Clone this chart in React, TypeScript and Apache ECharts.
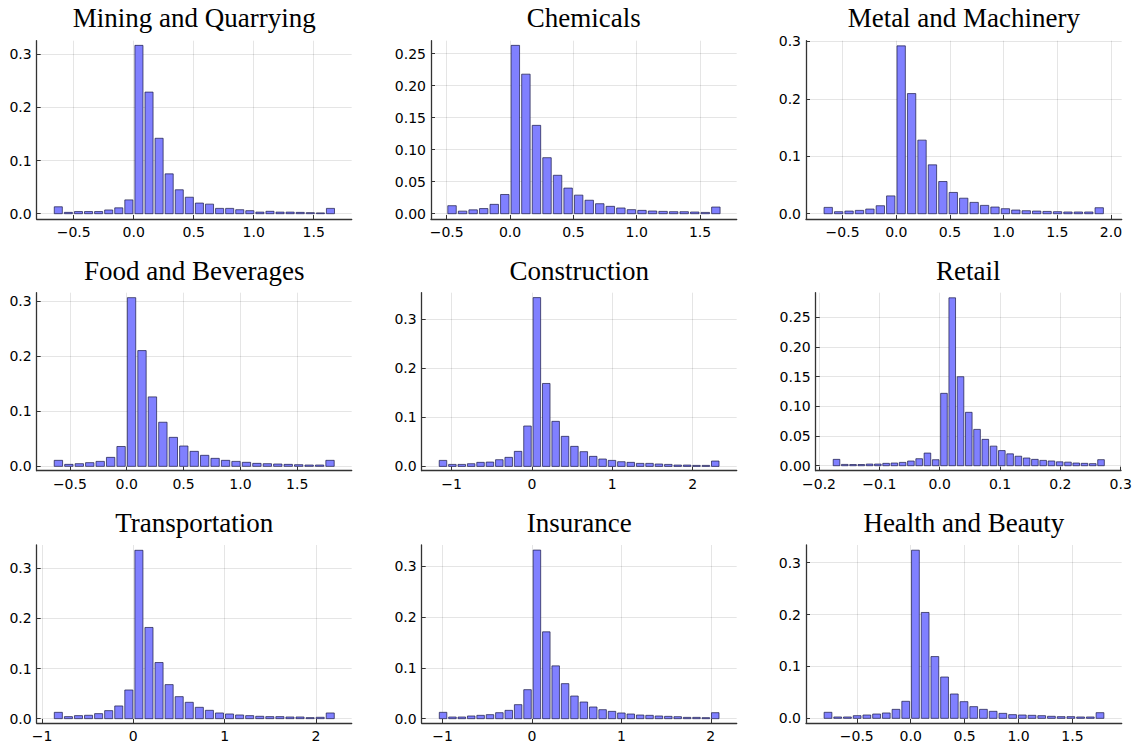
import React, { useEffect, useRef } from "react";
import * as echarts from "echarts";

// Sector names, one panel each (row by row)
const sectorNames = [
  "Mining and Quarrying",
  "Chemicals",
  "Metal and Machinery",
  "Food and Beverages",
  "Construction",
  "Retail",
  "Transportation",
  "Insurance",
  "Health and Beauty",
];

// Histogram bins: centre of the first bin and the common bin width
const firstBinCenter = [-0.628, -0.458, -0.634, -0.601, -1.108, -0.171, -0.821, -0.995, -0.767];
const binWidth = [0.084, 0.0833, 0.0971, 0.0919, 0.1169, 0.0137, 0.1103, 0.105, 0.0901];

// Relative frequencies per bin
const miningDensity = [0.013, 0.0025, 0.004, 0.004, 0.004, 0.007, 0.011, 0.026, 0.317, 0.229, 0.142, 0.075, 0.045, 0.031, 0.02, 0.018, 0.01, 0.01, 0.0075, 0.0057, 0.003, 0.0045, 0.003, 0.003, 0.0025, 0.002, 0.0015, 0.01];
const chemicalsDensity = [0.0125, 0.004, 0.006, 0.008, 0.0146, 0.03, 0.263, 0.218, 0.138, 0.0875, 0.06, 0.04, 0.029, 0.021, 0.0156, 0.0115, 0.0089, 0.0063, 0.0052, 0.0042, 0.0036, 0.0031, 0.0031, 0.0026, 0.002, 0.0104];
const metalDensity = [0.011, 0.0035, 0.0046, 0.0058, 0.0081, 0.0139, 0.031, 0.292, 0.209, 0.128, 0.085, 0.056, 0.037, 0.027, 0.0197, 0.0145, 0.0116, 0.0087, 0.0064, 0.0052, 0.0046, 0.004, 0.0035, 0.003, 0.003, 0.003, 0.0104];
const foodDensity = [0.0109, 0.0036, 0.0048, 0.0067, 0.009, 0.0163, 0.036, 0.306, 0.21, 0.126, 0.08, 0.0526, 0.0369, 0.0272, 0.02, 0.0145, 0.0109, 0.009, 0.0073, 0.0054, 0.0048, 0.0042, 0.0036, 0.003, 0.0024, 0.0024, 0.0109];
const constructionDensity = [0.0122, 0.004, 0.004, 0.0054, 0.0082, 0.0088, 0.0136, 0.0184, 0.0306, 0.0823, 0.344, 0.169, 0.0918, 0.0612, 0.0408, 0.03, 0.0204, 0.015, 0.0122, 0.0095, 0.0082, 0.0061, 0.0061, 0.0048, 0.004, 0.0027, 0.0027, 0.002, 0.002, 0.0109];
const retailDensity = [0.0107, 0.0022, 0.002, 0.002, 0.0028, 0.0028, 0.004, 0.0045, 0.0056, 0.0079, 0.0118, 0.0213, 0.0101, 0.122, 0.283, 0.15, 0.09, 0.0612, 0.0444, 0.033, 0.0255, 0.02, 0.016, 0.013, 0.0107, 0.009, 0.008, 0.0065, 0.006, 0.0045, 0.004, 0.0035, 0.0102];
const transportDensity = [0.0126, 0.004, 0.006, 0.0067, 0.01, 0.016, 0.0253, 0.0572, 0.336, 0.182, 0.112, 0.0679, 0.0439, 0.0326, 0.0226, 0.0166, 0.0113, 0.0093, 0.0073, 0.006, 0.0047, 0.004, 0.004, 0.0033, 0.0033, 0.002, 0.0027, 0.0113];
const insuranceDensity = [0.0125, 0.0033, 0.0033, 0.0053, 0.0066, 0.0079, 0.0118, 0.0164, 0.0276, 0.0571, 0.332, 0.171, 0.104, 0.069, 0.0446, 0.0328, 0.023, 0.0177, 0.0144, 0.0112, 0.0092, 0.0072, 0.0066, 0.0053, 0.0046, 0.0039, 0.0026, 0.0026, 0.002, 0.0118];
const healthDensity = [0.0116, 0.0026, 0.0026, 0.0051, 0.0064, 0.0083, 0.0103, 0.0173, 0.0328, 0.324, 0.204, 0.119, 0.0796, 0.0469, 0.0321, 0.0225, 0.0173, 0.0135, 0.0096, 0.0071, 0.0064, 0.0058, 0.0051, 0.0039, 0.0032, 0.0032, 0.0026, 0.0026, 0.0109];

const densities = [
  miningDensity, chemicalsDensity, metalDensity,
  foodDensity, constructionDensity, retailDensity,
  transportDensity, insuranceDensity, healthDensity,
];

// Axis extents
const xExtent = [
  [-0.808, 1.817], [-0.624, 1.789], [-0.841, 2.1],
  [-0.792, 1.979], [-1.373, 2.549], [-0.2055, 0.3005],
  [-1.058, 2.392], [-1.234, 2.29], [-0.971, 1.957],
];
const yExtent = [
  [-0.01, 0.3258], [-0.0083, 0.2703], [-0.0092, 0.301],
  [-0.0079, 0.315], [-0.0088, 0.354], [-0.0084, 0.2916],
  [-0.0087, 0.3466], [-0.0085, 0.342], [-0.009, 0.334],
];

// Tick values and label decimals
const halfTicks = [-0.5, 0, 0.5, 1, 1.5];
const unitTicks = [-1, 0, 1, 2];
const xTicks = [
  halfTicks, halfTicks, [-0.5, 0, 0.5, 1, 1.5, 2],
  halfTicks, unitTicks, [-0.2, -0.1, 0, 0.1, 0.2, 0.3],
  unitTicks, unitTicks, halfTicks,
];
const xDecimals = [1, 1, 1, 1, 0, 1, 0, 0, 1];
const tenthTicks = [0, 0.1, 0.2, 0.3];
const twentiethTicks = [0, 0.05, 0.1, 0.15, 0.2, 0.25];
const yTicks = [
  tenthTicks, twentiethTicks, tenthTicks,
  tenthTicks, tenthTicks, twentiethTicks,
  tenthTicks, tenthTicks, tenthTicks,
];
const yDecimals = [1, 2, 1, 1, 1, 2, 1, 1, 1];

// Plot-area boxes in page pixels: [left, top, right, bottom]
const panelBoxes = [
  [36.7, 40.7, 351.7, 219], [431, 40.7, 736.7, 219], [806, 40.7, 1121.7, 219],
  [36.7, 292.7, 351.7, 470.7], [421.7, 292.7, 736.7, 470.7], [815.7, 292.7, 1121, 470.7],
  [36.7, 545, 351.7, 723], [421.7, 545, 736.7, 723], [806, 545, 1121.7, 723],
];
const titleY = [18, 18, 18, 271, 271, 271, 523, 523, 523];

const fmt = (d: number) => (v: number) => {
  const s = Number(v).toFixed(d);
  return s.startsWith("-") ? "\u2212" + s.slice(1) : s;
};

export default function App() {
  const ref = useRef<HTMLDivElement>(null);

  useEffect(() => {
    if (!ref.current) return;
    const chart = echarts.init(ref.current, null, { renderer: "svg" });

    const axisColor = "#333";
    const gridColor = "rgba(0,0,0,0.1)";
    const labelFont = {
      fontFamily: "DejaVu Sans",
      fontSize: 14,
      color: "#000",
    };

    const grid: any[] = [];
    const xAxis: any[] = [];
    const yAxis: any[] = [];
    const series: any[] = [];
    const graphic: any[] = [];

    sectorNames.forEach((name, i) => {
      const [l, t, r, b] = panelBoxes[i];
      grid.push({ left: l, top: t, width: r - l, height: b - t, containLabel: false });

      xAxis.push({
        type: "value",
        gridIndex: i,
        min: xExtent[i][0],
        max: xExtent[i][1],
        axisLine: { show: true, onZero: false, lineStyle: { color: axisColor, width: 1.3 } },
        axisTick: { show: true, inside: true, length: 4, customValues: xTicks[i], lineStyle: { color: axisColor } },
        axisLabel: { ...labelFont, margin: 6, customValues: xTicks[i], formatter: fmt(xDecimals[i]) },
        splitLine: { show: true, lineStyle: { color: gridColor, width: 1 } },
      });

      yAxis.push({
        type: "value",
        gridIndex: i,
        min: yExtent[i][0],
        max: yExtent[i][1],
        axisLine: { show: true, onZero: false, lineStyle: { color: axisColor, width: 1.3 } },
        axisTick: { show: true, inside: true, length: 4, customValues: yTicks[i], lineStyle: { color: axisColor } },
        axisLabel: { ...labelFont, margin: 5, customValues: yTicks[i], formatter: fmt(yDecimals[i]) },
        splitLine: { show: true, lineStyle: { color: gridColor, width: 1 } },
      });

      const halfBar = binWidth[i] * 0.4;
      const data = densities[i].map((v, k) => [firstBinCenter[i] + k * binWidth[i], v]);

      series.push({
        type: "custom",
        name,
        xAxisIndex: i,
        yAxisIndex: i,
        data,
        clip: true,
        renderItem: (_p: any, api: any) => {
          const c = api.value(0);
          const h = api.value(1);
          const p0 = api.coord([c - halfBar, h]);
          const p1 = api.coord([c + halfBar, 0]);
          return {
            type: "rect",
            shape: { x: p0[0], y: p0[1], width: p1[0] - p0[0], height: p1[1] - p0[1] },
            style: { fill: "#8080ff", stroke: "rgba(25,25,70,0.7)", lineWidth: 1 },
          };
        },
      });

      graphic.push({
        type: "text",
        x: (l + r) / 2,
        y: titleY[i],
        style: {
          text: name,
          font: '27px "Liberation Serif"',
          fill: "#000",
          textAlign: "center",
          textVerticalAlign: "middle",
        },
      });
    });

    chart.setOption({
      animation: false,
      backgroundColor: "#fff",
      grid,
      xAxis,
      yAxis,
      series,
      graphic,
    });

    return () => chart.dispose();
  }, []);

  return (
    <div
      ref={ref}
      style={{ position: "absolute", left: 0, top: 0, width: 1140, height: 744 }}
    />
  );
}
